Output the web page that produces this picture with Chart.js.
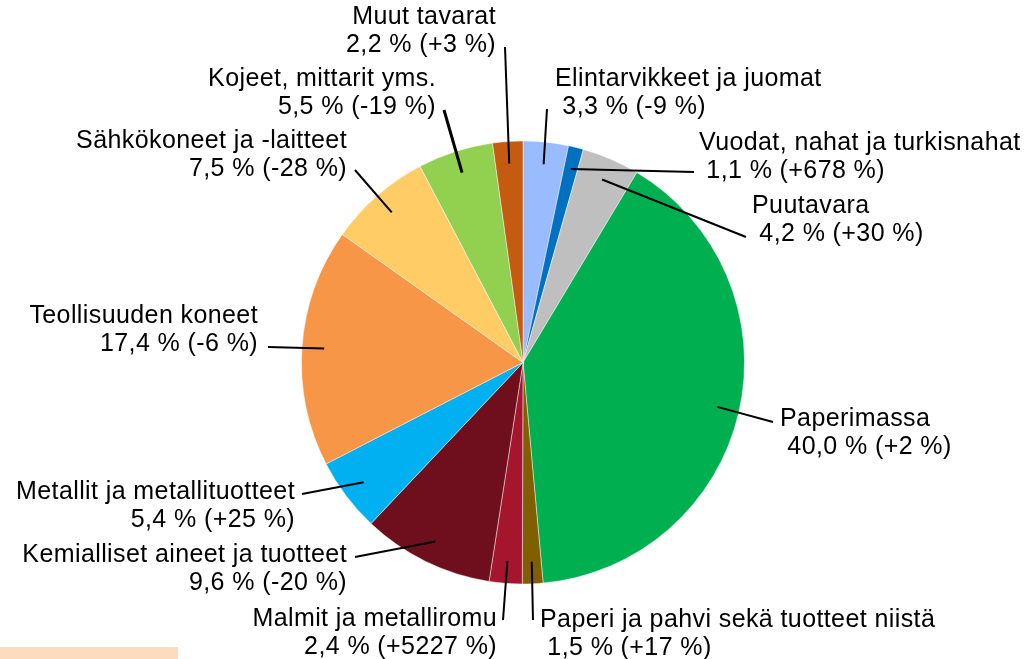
<!DOCTYPE html>
<html>
<head>
<meta charset="utf-8">
<script src="https://cdn.jsdelivr.net/npm/chart.js@4.4.1/dist/chart.umd.min.js"></script>
<style>
  html, body { margin: 0; padding: 0; background: #fff; }
  #wrap { position: relative; width: 1029px; height: 659px; }
  #strip { position: absolute; left: 0; top: 647px; width: 178px; height: 12px; background: #fddbbf; }
</style>
</head>
<body>
<div id="wrap">
  <canvas id="pieChart"></canvas>
  <div id="strip"></div>
</div>
<script>
// data, clockwise from 12 o'clock
const categories = [
    'Elintarvikkeet ja juomat',
    'Vuodat, nahat ja turkisnahat',
    'Puutavara',
    'Paperimassa',
    'Paperi ja pahvi sekä tuotteet niistä',
    'Malmit ja metalliromu',
    'Kemialliset aineet ja tuotteet',
    'Metallit ja metallituotteet',
    'Teollisuuden koneet',
    'Sähkökoneet ja -laitteet',
    'Kojeet, mittarit yms.',
    'Muut tavarat'
];
const shares = [3.3, 1.1, 4.2, 40.0, 1.5, 2.4, 9.6, 5.4, 17.4, 7.5, 5.5, 2.2];
const changes = [-9, 678, 30, 2, 17, 5227, -20, 25, -6, -28, -19, 3];
const colors = ['#99bbff', '#0070c0', '#bfbfbf', '#00b050', '#7f5f00', '#a6152e',
                '#6f0f1e', '#00b0f0', '#f79646', '#ffcc66', '#92d050', '#c55a11'];

// label layout: text x, first baseline, alignment, leader line end
const labelPos = [
    { x: 555, y: 86,  align: 'left',  ex: 547, ey: 109 },
    { x: 699, y: 150, align: 'left',  ex: 694, ey: 172 },
    { x: 752, y: 213, align: 'left',  ex: 746, ey: 237 },
    { x: 780, y: 426, align: 'left',  ex: 773, ey: 422 },
    { x: 540, y: 627, align: 'left',  ex: 533, ey: 620 },
    { x: 497, y: 626, align: 'right', ex: 503, ey: 620 },
    { x: 347, y: 562, align: 'right', ex: 355, ey: 557 },
    { x: 295, y: 499, align: 'right', ex: 302, ey: 494 },
    { x: 258, y: 323, align: 'right', ex: 268, ey: 347 },
    { x: 347, y: 148, align: 'right', ex: 355, ey: 170 },
    { x: 436, y: 86,  align: 'right', ex: 444, ey: 110 },
    { x: 496, y: 24,  align: 'right', ex: 505, ey: 47 }
];
const lineGap = 28;

function valueText(i) {
    const pct = shares[i].toFixed(1).replace('.', ',');
    const ch = (changes[i] > 0 ? '+' : '') + changes[i];
    return pct + ' % (' + ch + ' %)';
}

const leaderLabels = {
    id: 'leaderLabels',
    afterDatasetsDraw(chart) {
        const ctx = chart.ctx;
        const arcs = chart.getDatasetMeta(0).data;
        ctx.save();
        arcs.forEach((arc, i) => {
            const p = arc.getProps(['x', 'y', 'startAngle', 'endAngle', 'outerRadius'], true);
            const mid = (p.startAngle + p.endAngle) / 2;
            const sx = p.x + Math.cos(mid) * p.outerRadius * 0.9;
            const sy = p.y + Math.sin(mid) * p.outerRadius * 0.9;
            const pos = labelPos[i];

            ctx.strokeStyle = '#000';
            ctx.lineWidth = i === 10 ? 3 : 2;
            ctx.beginPath();
            ctx.moveTo(sx, sy);
            ctx.lineTo(pos.ex, pos.ey);
            ctx.stroke();

            ctx.fillStyle = '#000';
            ctx.font = '25px "Liberation Sans", Arial, sans-serif';
            ctx.letterSpacing = '0.4px';
            ctx.textAlign = pos.align;
            ctx.textBaseline = 'alphabetic';
            const second = pos.align === 'left' ? ' ' + valueText(i) : valueText(i);
            ctx.fillText(categories[i], pos.x, pos.y);
            ctx.fillText(second, pos.x, pos.y + lineGap);
        });
        ctx.restore();
    }
};

new Chart(document.getElementById('pieChart').getContext('2d'), {
    type: 'pie',
    data: {
        labels: categories,
        datasets: [{
            data: shares,
            backgroundColor: colors,
            borderColor: 'rgba(255, 255, 255, 0.45)',
            borderWidth: 1
        }]
    },
    options: {
        responsive: true,
        maintainAspectRatio: false,
        animation: false,
        layout: {
            padding: { left: 301, right: 284, top: 140, bottom: 74 }
        },
        plugins: {
            legend: { display: false },
            tooltip: { enabled: false }
        }
    },
    plugins: [leaderLabels]
});
</script>
</body>
</html>
